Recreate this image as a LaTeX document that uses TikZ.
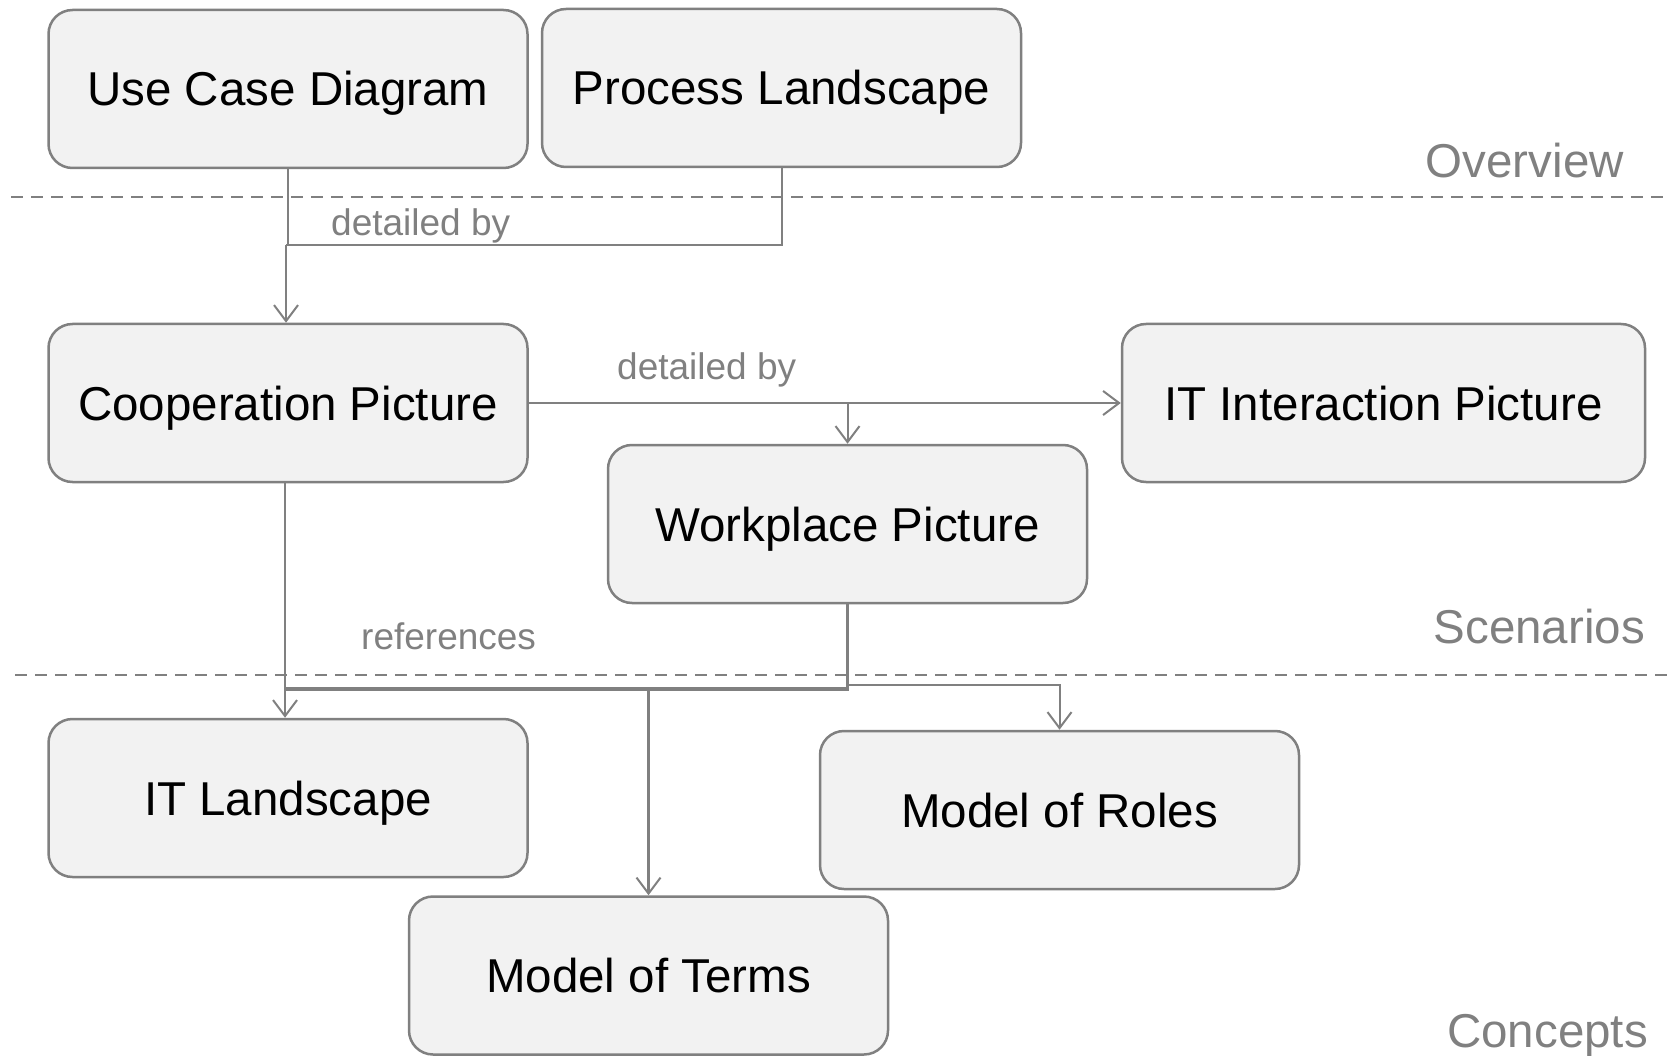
\documentclass[tikz,border=0pt]{standalone}
\usepackage{fontspec}
\setmainfont{Liberation Sans}
\usetikzlibrary{arrows.meta}
\definecolor{lgray}{HTML}{808080}
\definecolor{boxfill}{HTML}{F2F2F2}
\begin{document}
\begin{tikzpicture}[x=1pt,y=-1pt,
  box/.style={draw=lgray, line width=2.5pt, fill=boxfill, rounded corners=24pt, minimum width=479pt, minimum height=158pt, inner sep=0pt, text height=36pt, text depth=2pt, font=\fontsize{47.5}{57}\selectfont, text=black},
  conn/.style={draw=lgray, line width=2pt},
  arr/.style={conn, -{Straight Barb[length=16pt,width=24pt,line width=2pt]}},
  lab/.style={text=lgray, font=\fontsize{37}{44}\selectfont, inner sep=0pt, anchor=base west},
  sect/.style={text=lgray, font=\fontsize{47.5}{57}\selectfont, inner sep=0pt, anchor=base east},
  sep/.style={draw=lgray, line width=2pt, dash pattern=on 12pt off 8pt}]
\useasboundingbox (0,0) rectangle (1675,1056);
% separators
\coordinate (s1a) at (11,197); \coordinate (s1b) at (1664,197);
\coordinate (s2a) at (15,675); \coordinate (s2b) at (1669,675);
\draw[sep] (s1a) -- (s1b);
\draw[sep] (s2a) -- (s2b);
% boxes
\node[box] (uc) at (288,89) {Use Case Diagram};
\node[box] (pl) at (781.5,88) {Process Landscape};
\node[box] (coop) at (288,403) {Cooperation Picture};
\node[box, minimum width=523pt] (iti) at (1383.5,403) {IT Interaction Picture};
\node[box] (wp) at (847.5,524) {Workplace Picture};
\node[box] (itl) at (288,798) {IT Landscape};
\node[box] (mor) at (1059.5,810) {Model of Roles};
\node[box] (mot) at (648.5,975.5) {Model of Terms};
% section labels
\node[sect] (ov) at (1624,178) {Overview};
\node[sect] (sc) at (1645,643) {Scenarios};
\node[sect] (co) at (1648,1047) {Concepts};
% connector labels
\node[lab] (d1) at (331,236) {detailed by};
\node[lab] (d2) at (617,379) {detailed by};
\node[lab] (rf) at (361,649) {references};
% connectors
\coordinate (j1) at (288,245);
\coordinate (j2) at (781.5,245);
\draw[conn] (uc.south) -- (j1) -- (j2) -- (pl.south);
\draw[conn] ([xshift=-2pt]j1) -- (j1);
\draw[arr] ([xshift=-2pt]j1) -- ([xshift=-2pt]coop.north);
\draw[arr] (coop.east) -- (iti.west);
\coordinate (j3) at (wp.north |- coop.east);
\draw[arr] (j3) -- (wp.north);
\draw[arr] ([xshift=-3pt]coop.south) -- ([xshift=-3pt]itl.north);
\coordinate (j4) at (285,689);
\coordinate (j5) at (847.5,689);
\draw[conn, line width=3.5pt] (wp.south) -- (j5) -- (j4);
\coordinate (j6) at (mot.north |- j4);
\draw[arr, line width=3.5pt] (j6) -- (mot.north);
\coordinate (j7) at (847.5,685);
\draw[arr] (j7) -| (mor.north);
\end{tikzpicture}
\end{document}
